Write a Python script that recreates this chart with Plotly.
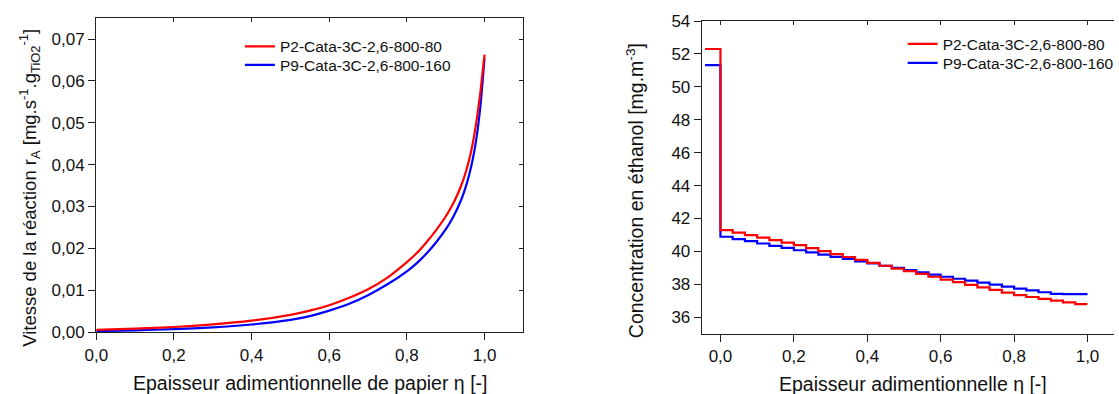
import plotly.graph_objects as go

# ---------------- data ----------------
series_names = ["P2-Cata-3C-2,6-800-80", "P9-Cata-3C-2,6-800-160"]
series_colors = ["#FF0000", "#0000FF"]

# left chart: reaction rate vs dimensionless paper thickness
eta_rate = [0, 0.1, 0.2, 0.3, 0.4, 0.5, 0.55, 0.6, 0.65, 0.7, 0.75, 0.8, 0.825, 0.85,
            0.875, 0.9, 0.92, 0.94, 0.95, 0.96, 0.97, 0.98, 0.99, 1.0]
rate_p2 = [0.0005, 0.0008, 0.0012, 0.0018, 0.0027, 0.0041, 0.0051, 0.0064, 0.0081,
           0.0102, 0.0130, 0.0167, 0.0188, 0.0214, 0.0243, 0.0276, 0.0308, 0.0350,
           0.0377, 0.0410, 0.0452, 0.0508, 0.0578, 0.0663]
rate_p9 = [0.0002, 0.0004, 0.0007, 0.0011, 0.0018, 0.0029, 0.0038, 0.0051, 0.0067,
           0.0088, 0.0114, 0.0145, 0.0164, 0.0187, 0.0214, 0.0245, 0.0276, 0.0316,
           0.0342, 0.0374, 0.0414, 0.0468, 0.0545, 0.0654]

# right chart: ethanol concentration vs dimensionless thickness (stepwise)
eta_inlet = -0.042
inlet_p2 = 52.30
inlet_p9 = 51.32
eta_cells = [0.0, 0.0333, 0.0667, 0.1, 0.1333, 0.1667, 0.2, 0.2333, 0.2667, 0.3,
             0.3333, 0.3667, 0.4, 0.4333, 0.4667, 0.5, 0.5333, 0.5667, 0.6, 0.6333,
             0.6667, 0.7, 0.7333, 0.7667, 0.8, 0.8333, 0.8667, 0.9, 0.9333, 0.9667, 1.0]
conc_p2 = [41.29, 41.14, 40.99, 40.84, 40.69, 40.53, 40.38, 40.20, 40.02, 39.84,
           39.66, 39.48, 39.30, 39.13, 38.96, 38.80, 38.63, 38.46, 38.29, 38.13,
           37.97, 37.81, 37.66, 37.50, 37.34, 37.23, 37.12, 37.01, 36.90, 36.80, 36.80]
conc_p9 = [40.89, 40.75, 40.62, 40.48, 40.34, 40.21, 40.07, 39.94, 39.80, 39.67,
           39.54, 39.40, 39.27, 39.13, 39.00, 38.86, 38.73, 38.59, 38.46, 38.34,
           38.22, 38.10, 37.98, 37.86, 37.74, 37.63, 37.52, 37.42, 37.40, 37.40, 37.40]

left_xticks = [0, 0.2, 0.4, 0.6, 0.8, 1.0]
left_yticks = [0, 0.01, 0.02, 0.03, 0.04, 0.05, 0.06, 0.07]
right_yticks = [36, 38, 40, 42, 44, 46, 48, 50, 52, 54]

# ---------------- figure ----------------
W, H = 1119, 394
FONT = "Arial, Liberation Sans, sans-serif"
AX = "#222222"

def px(x):
    return x / W

def py(y):
    return 1 - y / H

fig = go.Figure()

# left chart (one legend per entry for exact placement)
for name, col, ys, leg in [(series_names[1], series_colors[1], rate_p9, "legend2"),
                           (series_names[0], series_colors[0], rate_p2, "legend")]:
    fig.add_trace(go.Scatter(x=eta_rate, y=ys, mode="lines", name=name,
                             line=dict(color=col, width=2.2, shape="spline", smoothing=0.5),
                             xaxis="x", yaxis="y", legend=leg))

# right chart
for name, col, inl, ys, leg in [(series_names[1], series_colors[1], inlet_p9, conc_p9, "legend4"),
                                (series_names[0], series_colors[0], inlet_p2, conc_p2, "legend3")]:
    fig.add_trace(go.Scatter(x=[eta_inlet] + eta_cells, y=[inl] + ys, mode="lines", name=name,
                             line=dict(color=col, width=2.2, shape="hv"),
                             xaxis="x2", yaxis="y2", legend=leg))

fig.add_trace(go.Scatter(x=[], y=[], xaxis="x3", yaxis="y3", showlegend=False, hoverinfo="skip"))
fig.add_trace(go.Scatter(x=[], y=[], xaxis="x4", yaxis="y4", showlegend=False, hoverinfo="skip"))

LX = [px(96.7), px(525.7)]
LY = [py(332), py(17.7)]
RX = [px(705), 1.0]
RY = [py(333.7), py(21)]

xr_left = [0, 1.1]
yr_left = [0, 0.0751]
xr_right = [-0.0507, 1.0722]
yr_right = [35, 54]

base = dict(showgrid=False, zeroline=False, showline=True, linecolor=AX, linewidth=1.3,
            ticks="outside", ticklen=7, tickwidth=1.2, tickcolor=AX,
            tickfont=dict(family=FONT, size=17, color="#111"), automargin=False)

def leg(x_text, y_center):
    return dict(x=px(x_text - 40), y=py(y_center - 16), xanchor="left", yanchor="top",
                bgcolor="rgba(0,0,0,0)", font=dict(family=FONT, size=15.5, color="#111"),
                tracegroupgap=0)

fig.update_layout(
    width=W, height=H, margin=dict(l=0, r=0, t=0, b=0),
    paper_bgcolor="white", plot_bgcolor="white", template="none",
    separators=", ",
    font=dict(family=FONT, color="#111"),
    xaxis=dict(base, domain=LX, range=xr_left, tickvals=left_xticks, tickformat=".1f",
               anchor="y", mirror=True),
    yaxis=dict(base, domain=LY, range=yr_left, tickvals=left_yticks, tickformat=".2f",
               anchor="x", mirror=True),
    xaxis2=dict(base, domain=RX, range=xr_right, tickvals=left_xticks, tickformat=".1f",
                anchor="y2", mirror=True),
    yaxis2=dict(base, domain=RY, range=yr_right, tickvals=right_yticks, tickformat="d",
                anchor="x2", mirror=False),
    xaxis3=dict(domain=LX, range=xr_left, tickvals=left_xticks, overlaying="x", side="top",
                anchor="y3", ticks="inside", ticklen=4, tickcolor=AX, tickwidth=1,
                showticklabels=False, showgrid=False, zeroline=False, showline=False),
    yaxis3=dict(domain=LY, range=yr_left, tickvals=left_yticks, overlaying="y", side="right",
                anchor="x3", ticks="inside", ticklen=4, tickcolor=AX, tickwidth=1,
                showticklabels=False, showgrid=False, zeroline=False, showline=False),
    xaxis4=dict(domain=RX, range=xr_right, tickvals=left_xticks, overlaying="x2", side="top",
                anchor="y4", ticks="inside", ticklen=4, tickcolor=AX, tickwidth=1,
                showticklabels=False, showgrid=False, zeroline=False, showline=False),
    yaxis4=dict(domain=RY, range=yr_right, overlaying="y2", visible=False, anchor="x4"),
    legend=leg(281, 45.7),
    legend2=leg(281, 64.3),
    legend3=leg(946.7, 43.3),
    legend4=leg(946.7, 62.3),
    showlegend=True,
)

title_font = dict(family=FONT, size=19.5, color="#111")
annos = [
    dict(text="Epaisseur adimentionnelle de papier η [-]", x=px(311.3), y=py(383), size=19.5),
    dict(text="Epaisseur adimentionnelle η [-]", x=px(917), y=py(384), size=19.5),
    dict(text="Vitesse de la réaction r<sub>A</sub> [mg.s<sup>-1</sup>.g<sub>TiO2</sub><sup>-1</sup>]",
         x=px(29), y=py(188), textangle=-90, size=18.5),
    dict(text="Concentration en éthanol [mg.m<sup>-3</sup>]", x=px(638), y=py(191),
         textangle=-90, size=19.5),
]
for a in annos:
    size = a.pop("size")
    fig.add_annotation(xref="paper", yref="paper", xanchor="center", yanchor="middle",
                       showarrow=False, font=dict(family=FONT, size=size, color="#111"), **a)

fig.write_html("out.html", config={"displayModeBar": False},
               post_script="document.body.style.margin='0';document.body.style.padding='0';"
                           "document.body.style.overflow='hidden';")
